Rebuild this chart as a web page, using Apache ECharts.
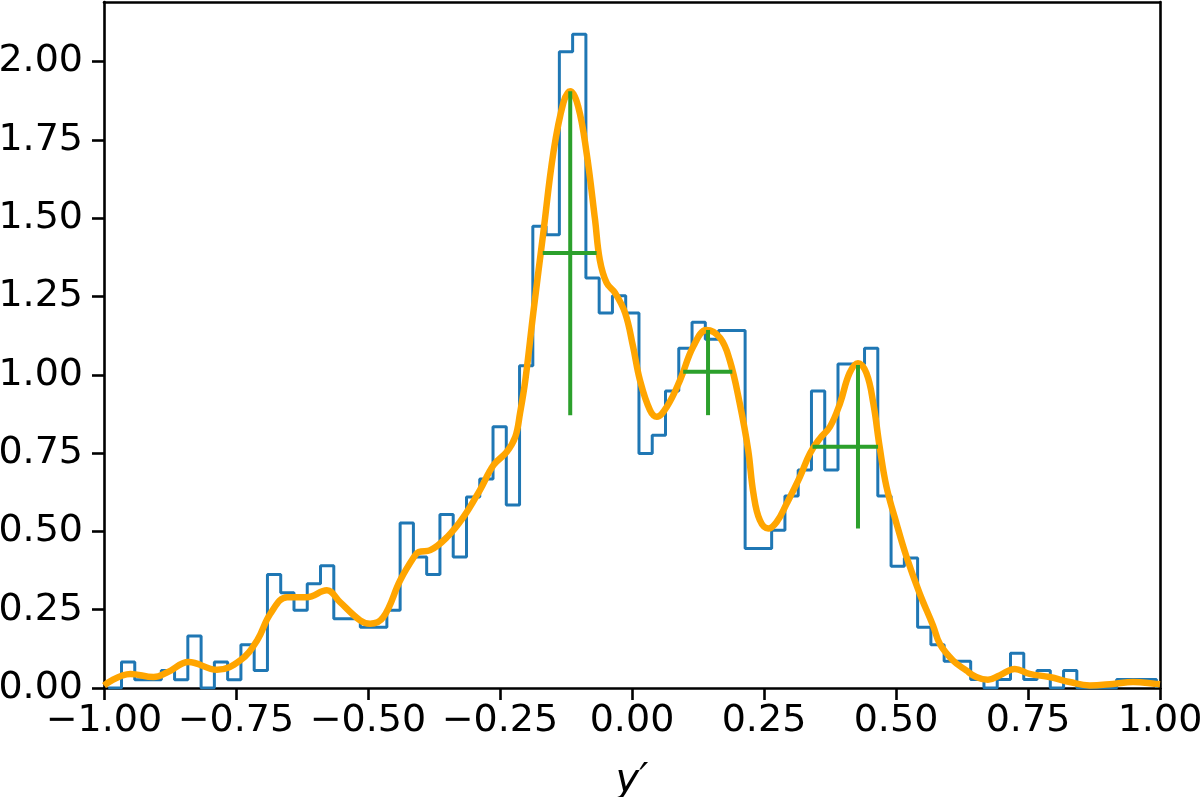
<!DOCTYPE html>
<html>
<head>
<meta charset="utf-8">
<script src="https://cdn.jsdelivr.net/npm/echarts@6/dist/echarts.min.js"></script>
<style>
    html, body {margin: 0; padding: 0; background: #fff;}
    #chart {width: 1200px; height: 797px;}
</style>
</head>
<body>
<div id="chart"></div>
<script>
// histogram: 79 equal bins starting at binStart
let binStart = -0.992;
let binWidth = 0.02513;
let binHeights = [
    0, 0.083, 0.026, 0.026, 0.056, 0.026, 0.166, 0, 0.083, 0.026,
    0.138, 0.056, 0.362, 0.304, 0.248, 0.333, 0.390, 0.221, 0.221, 0.194,
    0.194, 0.248, 0.527, 0.418, 0.362, 0.554, 0.418, 0.610, 0.667, 0.834,
    0.584, 1.029, 1.474, 1.447, 2.031, 2.087, 1.309, 1.197, 1.252, 1.197,
    0.749, 0.807, 0.948, 1.085, 1.168, 1.113, 1.141, 1.141, 0.445, 0.445,
    0.504, 0.613, 0.696, 0.948, 0.696, 1.034, 1.034, 1.085, 0.613, 0.389,
    0.415, 0.194, 0.138, 0.085, 0.085, 0.027, 0, 0.027, 0.111, 0.027,
    0.056, 0, 0.056, 0, 0, 0, 0.027, 0.027, 0.027
];

// density curve
let kdeX = [
    -1.000, -0.950, -0.906, -0.880, -0.840, -0.786, -0.742, -0.710, -0.685, -0.653,
    -0.616, -0.578, -0.553, -0.515, -0.496, -0.471, -0.439, -0.413, -0.404, -0.382,
    -0.350, -0.319, -0.288, -0.262, -0.237, -0.221, -0.212, -0.202, -0.187, -0.168,
    -0.149, -0.130, -0.117, -0.102, -0.086, -0.070, -0.061, -0.048, -0.032, -0.013,
    0.002, 0.015, 0.034, 0.047, 0.066, 0.091, 0.116, 0.141, 0.167, 0.185,
    0.204, 0.220, 0.230, 0.242, 0.258, 0.274, 0.293, 0.318, 0.337, 0.356,
    0.375, 0.394, 0.412, 0.428, 0.444, 0.457, 0.469, 0.482, 0.501, 0.520,
    0.545, 0.570, 0.583, 0.608, 0.633, 0.652, 0.674, 0.696, 0.725, 0.753,
    0.791, 0.829, 0.867, 0.911, 0.949, 0.993, 1.000
];
let kdeY = [
    0.008, 0.045, 0.035, 0.050, 0.083, 0.058, 0.088, 0.152, 0.237, 0.290,
    0.290, 0.312, 0.274, 0.216, 0.205, 0.226, 0.344, 0.418, 0.434, 0.440,
    0.482, 0.546, 0.632, 0.712, 0.754, 0.802, 0.878, 0.983, 1.197, 1.453,
    1.708, 1.868, 1.905, 1.857, 1.708, 1.495, 1.367, 1.293, 1.261, 1.197,
    1.090, 0.983, 0.887, 0.866, 0.898, 0.983, 1.090, 1.143, 1.117, 1.047,
    0.909, 0.760, 0.621, 0.536, 0.509, 0.530, 0.589, 0.674, 0.749, 0.797,
    0.834, 0.909, 1.005, 1.037, 1.005, 0.909, 0.770, 0.642, 0.525, 0.418,
    0.301, 0.200, 0.141, 0.088, 0.056, 0.035, 0.026, 0.040, 0.061, 0.045,
    0.035, 0.019, 0.008, 0.013, 0.019, 0.013, 0.012
];

// peak markers: vertical from peakBottom to peakTop, horizontal at crossY
let peakX = [-0.117, 0.144, 0.428];
let peakTop = [1.905, 1.143, 1.031];
let peakBottom = [0.871, 0.871, 0.509];
let crossY = [1.389, 1.010, 0.770];
let crossLeft = [-0.169, 0.097, 0.342];
let crossRight = [-0.067, 0.190, 0.466];

let myChart = echarts.init(document.getElementById('chart'));

let histData = [[binStart, 0]];
for (let i = 0; i < binHeights.length; i++) {
    histData.push([binStart + i * binWidth, binHeights[i]]);
}
let lastEdge = binStart + binHeights.length * binWidth;
histData.push([lastEdge, binHeights[binHeights.length - 1]]);
histData.push([lastEdge, 0]);

let kdeData = kdeX.map(function (x, i) { return [x, kdeY[i]]; });

let font = 'DejaVu Sans';
let minus = function (v) { return v.toFixed(2).replace('-', '\u2212'); };
let spine = {color: '#000', width: 2.6};

let option = {
    animation: false,
    backgroundColor: '#fff',
    grid: {
        left: 104,
        right: 40,
        top: 2,
        bottom: 109,
        outerBoundsMode: 'none',
        containLabel: false
    },
    xAxis: [{
        type: 'value',
        min: -1,
        max: 1,
        interval: 0.25,
        name: "y\u2032",
        nameLocation: 'middle',
        nameGap: 74,
        nameTextStyle: {fontFamily: font, fontSize: 40, fontStyle: 'italic', color: '#000'},
        axisLine: {onZero: false, lineStyle: spine},
        axisTick: {length: 12, lineStyle: spine},
        axisLabel: {fontFamily: font, fontSize: 38, color: '#000', margin: 14, formatter: minus},
        splitLine: {show: false}
    }, {
        type: 'value',
        position: 'top',
        min: -1,
        max: 1,
        axisLine: {onZero: false, lineStyle: spine},
        axisTick: {show: false},
        axisLabel: {show: false},
        splitLine: {show: false}
    }],
    yAxis: [{
        type: 'value',
        min: 0,
        max: 2.19,
        interval: 0.25,
        axisLine: {show: true, onZero: false, lineStyle: spine},
        axisTick: {show: true, length: 12, lineStyle: spine},
        axisLabel: {fontFamily: font, fontSize: 38, color: '#000', margin: 21, showMaxLabel: false, formatter: minus},
        splitLine: {show: false}
    }, {
        type: 'value',
        position: 'right',
        min: 0,
        max: 2.19,
        axisLine: {show: true, onZero: false, lineStyle: spine},
        axisTick: {show: false},
        axisLabel: {show: false},
        splitLine: {show: false}
    }],
    series: []
};

option.series.push({
    type: 'line',
    data: histData,
    step: 'end',
    symbol: 'none',
    lineStyle: {color: '#1f77b4', width: 3},
    z: 2
});
option.series.push({
    type: 'line',
    data: kdeData,
    smooth: 0.4,
    symbol: 'none',
    lineStyle: {color: '#ffa500', width: 6.5},
    z: 3
});
for (let i = 0; i < peakX.length; i++) {
    option.series.push({
        type: 'line',
        data: [[peakX[i], peakBottom[i]], [peakX[i], peakTop[i]]],
        symbol: 'none',
        lineStyle: {color: '#2ca02c', width: 4},
        z: 4
    });
    option.series.push({
        type: 'line',
        data: [[crossLeft[i], crossY[i]], [crossRight[i], crossY[i]]],
        symbol: 'none',
        lineStyle: {color: '#2ca02c', width: 4},
        z: 4
    });
}

myChart.setOption(option);
</script>
</body>
</html>
